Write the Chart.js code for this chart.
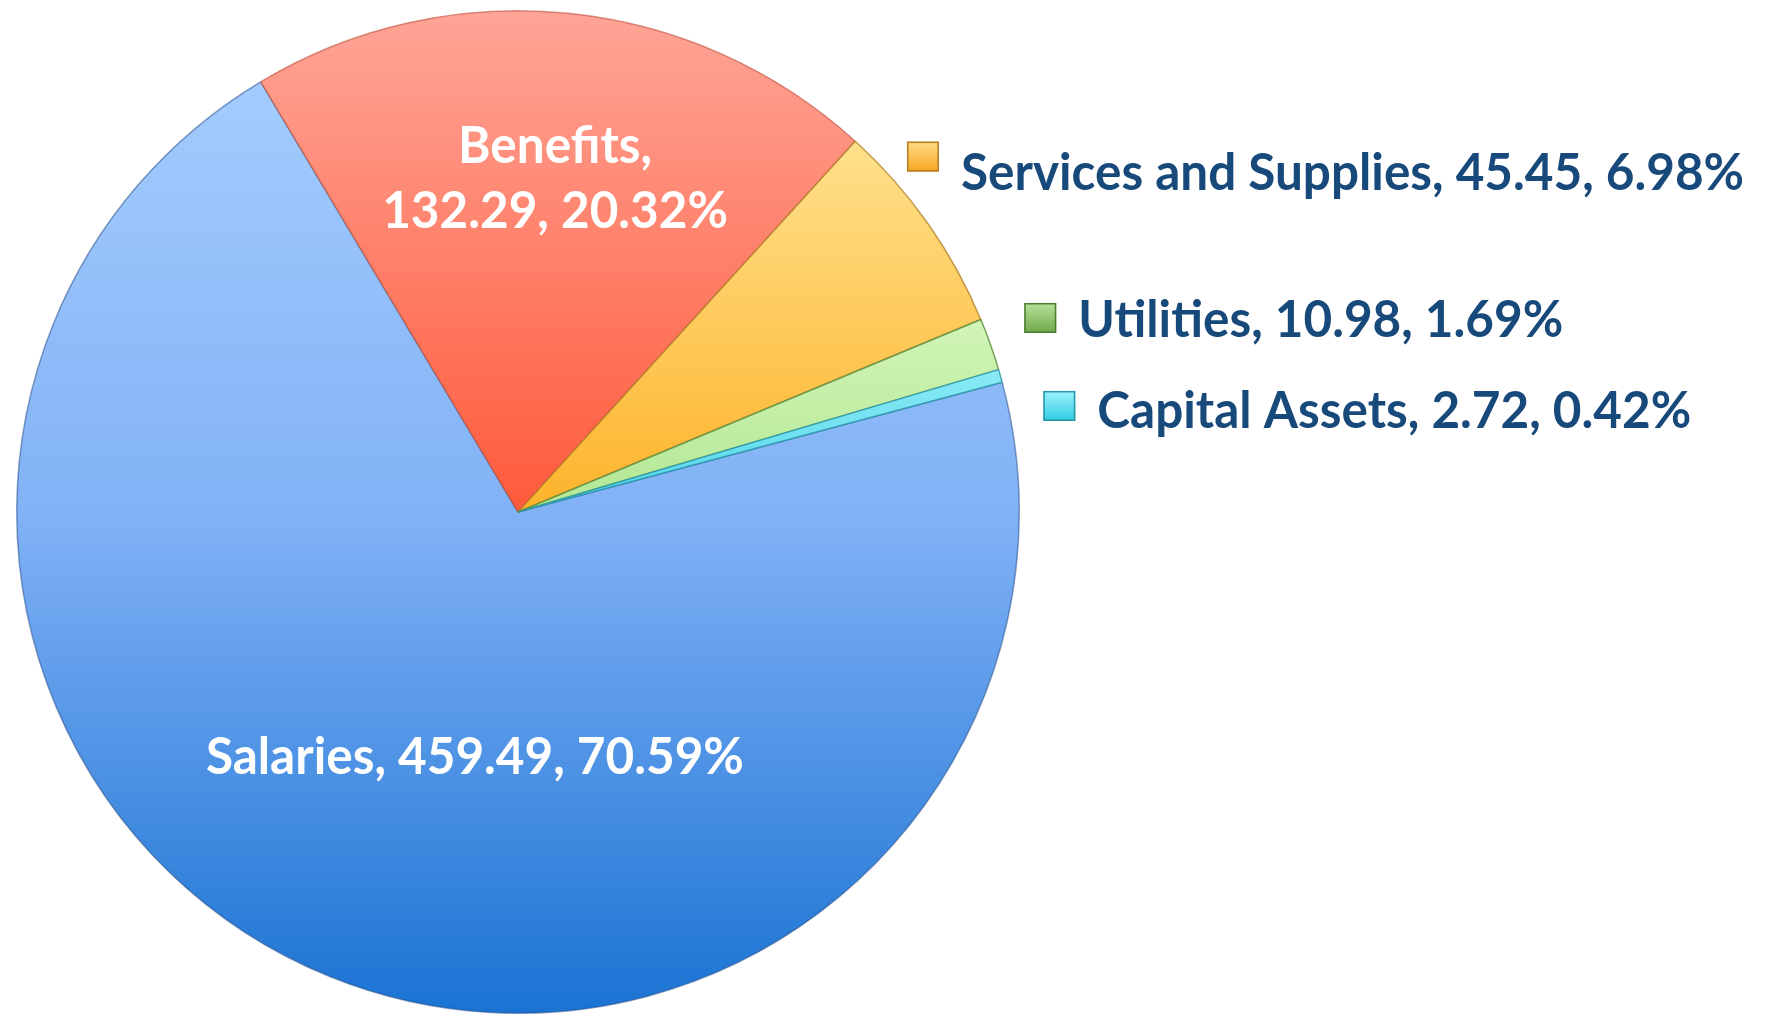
<!DOCTYPE html>
<html>
<head>
<meta charset="utf-8">
<script src="https://cdn.jsdelivr.net/npm/chart.js@4.4.1/dist/chart.umd.min.js"></script>
<style>
html, body { margin: 0; padding: 0; background: #fff; }
#wrap { width: 1767px; height: 1014px; }
</style>
</head>
<body>
<div id="wrap"><canvas id="budgetChart" width="1767" height="1014"></canvas></div>
<script>
const categories = ['Salaries', 'Benefits', 'Services and Supplies', 'Utilities', 'Capital Assets'];
const amounts = [459.49, 132.29, 45.45, 10.98, 2.72];

// vertical gradient stops for each slice (fraction of pie height)
const sliceStops = [
    [[0, '#a9d0ff'], [0.5, '#82b2f6'], [1, '#1a73d3']],
    [[0, '#ffa597'], [0.5, '#ff5a3b']],
    [[0.12, '#ffe28e'], [0.5, '#fdb32a']],
    [[0.28, '#d6f7bb'], [0.5, '#b2e794']],
    [[0.3, '#a2f2f9'], [0.5, '#4fd5ea']]
];
const sliceBorders = ['rgba(40,80,140,0.55)', 'rgba(190,80,60,0.6)', 'rgba(170,120,30,0.7)', 'rgba(90,140,60,0.8)', 'rgba(40,150,170,0.8)'];
const keyColors = [
    ['#9cc6fb', '#2a7fd8', '#1f5fa8'],
    ['#ff9a8a', '#ff5a3c', '#c04a30'],
    ['#ffdc85', '#f5a623', '#b27d24'],
    ['#b6e29a', '#6fa84a', '#4e7a32'],
    ['#9ff2fb', '#2fcbe4', '#2796a8']
];

// label placement, relative to pie centre in units of radius
// inside: text centre/baseline; outside: key top-left, text baseline offset in px
const labelLayout = [
    { inside: true, dx: -0.086, dy: 0.523 },
    { inside: true, dx: 0.074, dy: -0.697, wrap: true },
    { inside: false, dx: 0.776, dy: -0.739, base: 48 },
    { inside: false, dx: 1.010, dy: -0.417, base: 34 },
    { inside: false, dx: 1.048, dy: -0.2415, base: 37 }
];

const total = amounts.reduce((a, b) => a + b, 0);
const pct = v => (v / total * 100).toFixed(2) + '%';

const FONT = 'bold 51px Lato';
const SX = 0.97;

function drawText(ctx, text, x, y, align) {
    ctx.save();
    ctx.translate(x, y);
    ctx.scale(SX, 1);
    ctx.textAlign = align;
    ctx.textBaseline = 'alphabetic';
    ctx.fillText(text, 0, 0);
    ctx.restore();
}

const gradCache = {};
function sliceFill(context) {
    const chart = context.chart;
    const area = chart.chartArea;
    const i = context.dataIndex;
    if (!area) return sliceStops[i][0][1];
    const key = i + ':' + area.top + ':' + area.bottom;
    if (!gradCache[key]) {
        const g = chart.ctx.createLinearGradient(0, area.top, 0, area.bottom);
        sliceStops[i].forEach(s => g.addColorStop(s[0], s[1]));
        gradCache[key] = g;
    }
    return gradCache[key];
}

const labelPlugin = {
    id: 'sliceLabels',
    afterDatasetsDraw(chart) {
        const ctx = chart.ctx;
        const arcs = chart.getDatasetMeta(0).data;
        ctx.save();
        ctx.font = FONT;
        arcs.forEach((arc, i) => {
            const lay = labelLayout[i];
            const r = arc.outerRadius;
            const x = arc.x + lay.dx * r;
            const y = arc.y + lay.dy * r;
            const value = amounts[i].toFixed(2) + ', ' + pct(amounts[i]);
            if (lay.inside) {
                ctx.fillStyle = '#ffffff';
                if (lay.wrap) {
                    drawText(ctx, categories[i] + ',', x, y, 'center');
                    drawText(ctx, value, x, y + 65, 'center');
                } else {
                    drawText(ctx, categories[i] + ', ' + value, x, y, 'center');
                }
            } else {
                // legend key square
                const kw = 32, kh = 30;
                const g = ctx.createLinearGradient(0, y, 0, y + kh);
                g.addColorStop(0, keyColors[i][0]);
                g.addColorStop(1, keyColors[i][1]);
                ctx.fillStyle = g;
                ctx.fillRect(x, y, kw, kh);
                ctx.strokeStyle = keyColors[i][2];
                ctx.lineWidth = 1.5;
                ctx.strokeRect(x + 0.75, y + 0.75, kw - 1.5, kh - 1.5);
                ctx.fillStyle = '#17497b';
                drawText(ctx, categories[i] + ', ' + value, x + 54, y + lay.base, 'left');
            }
        });
        ctx.restore();
    }
};

new Chart(document.getElementById('budgetChart').getContext('2d'), {
    type: 'pie',
    data: {
        labels: categories,
        datasets: [{
            data: amounts,
            backgroundColor: sliceFill,
            borderColor: sliceBorders,
            borderWidth: 1.5
        }]
    },
    options: {
        responsive: false,
        animation: false,
        rotation: 75,
        layout: { padding: { left: 16, top: 10, right: 747, bottom: 0 } },
        plugins: {
            legend: { display: false },
            tooltip: { enabled: false }
        }
    },
    plugins: [labelPlugin]
});
</script>
</body>
</html>
